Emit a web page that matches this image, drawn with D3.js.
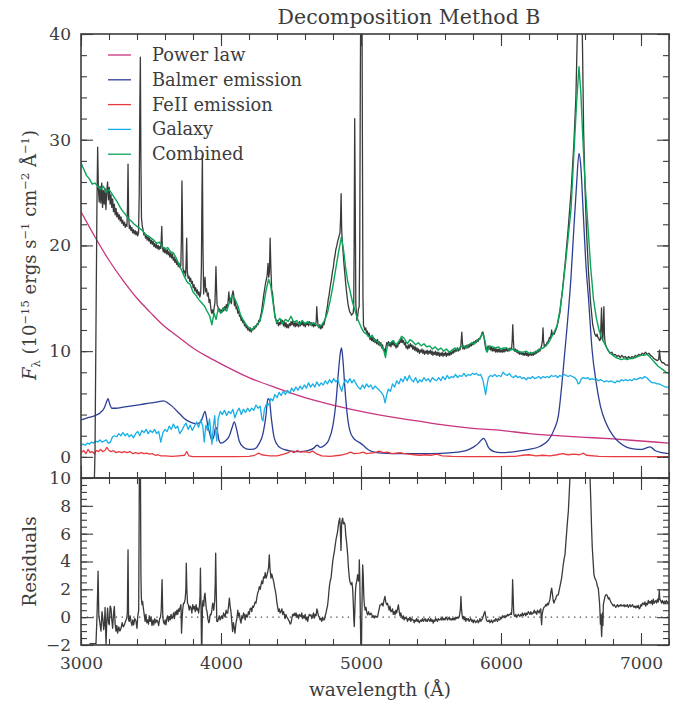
<!DOCTYPE html>
<html><head><meta charset="utf-8">
<script src="https://cdn.jsdelivr.net/npm/d3@7"></script>
<style>body{margin:0;background:#fff}svg{display:block}</style>
</head><body>
<svg id="c" width="687" height="703"></svg>
<script>
// ---------- DATA ----------
const xMajorTicks = [3000, 4000, 5000, 6000, 7000];
const yTopLabels = [0, 10, 20, 30, 40];
const yResLabels = [-2, 0, 2, 4, 6, 8, 10];
const seriesNames = ["Power law", "Balmer emission", "FeII emission", "Galaxy", "Combined"];

const powerLaw = [[3000,23.2],[3100,20.8],[3200,18.6],[3300,16.7],[3400,15.0],[3500,13.6],[3600,12.3],[3700,11.3],[3800,10.3],[3900,9.5],[4000,8.8],[4200,7.5],[4400,6.5],[4600,5.6],[4800,4.9],[5000,4.3],[5200,3.8],[5400,3.4],[5600,3.0],[5800,2.7],[6000,2.5],[6200,2.2],[6400,2.0],[6600,1.85],[6800,1.7],[7000,1.5],[7200,1.3]];

const balmer = [[3000,3.5],[3050,3.7],[3100,3.9],[3140,4.2],[3165,4.6],[3180,5.1],[3193,5.5],[3205,5.0],[3220,4.6],[3250,4.6],[3300,4.7],[3350,4.8],[3400,4.9],[3450,5.0],[3500,5.1],[3550,5.2],[3590,5.3],[3620,5.1],[3650,4.8],[3680,4.4],[3710,4.0],[3740,3.6],[3770,3.35],[3800,3.2],[3830,3.15],[3855,3.3],[3870,3.8],[3885,4.3],[3895,3.8],[3905,3.0],[3920,2.2],[3935,1.6],[3950,2.0],[3962,2.8],[3972,2.6],[3985,1.6],[4000,1.3],[4030,1.5],[4060,2.0],[4080,2.8],[4095,3.3],[4110,2.7],[4130,1.5],[4160,0.9],[4200,0.7],[4240,0.75],[4270,1.2],[4300,2.2],[4320,3.8],[4335,5.5],[4345,5.4],[4360,3.6],[4380,1.8],[4410,1.0],[4450,0.7],[4500,0.55],[4560,0.5],[4620,0.6],[4660,0.8],[4686,1.1],[4710,0.9],[4740,1.1],[4770,1.6],[4800,3.0],[4820,5.0],[4840,8.2],[4852,9.8],[4861,10.3],[4870,9.3],[4885,6.5],[4900,4.2],[4920,2.5],[4945,1.8],[4970,1.5],[4995,1.3],[5015,1.1],[5040,0.8],[5080,0.5],[5150,0.35],[5300,0.3],[5500,0.3],[5650,0.4],[5750,0.6],[5800,0.9],[5840,1.3],[5860,1.6],[5876,1.75],[5890,1.5],[5910,0.9],[5950,0.5],[6000,0.4],[6100,0.5],[6200,0.7],[6280,1.0],[6340,1.6],[6380,2.6],[6410,3.9],[6440,7.6],[6470,12.0],[6500,17.0],[6520,21.5],[6540,25.8],[6557,28.7],[6570,27.5],[6586,23.5],[6605,18.5],[6625,15.0],[6650,10.2],[6680,7.0],[6710,4.8],[6750,3.2],[6800,2.0],[6850,1.3],[6900,0.9],[6950,0.75],[7000,0.7],[7030,0.8],[7065,0.95],[7100,0.6],[7150,0.4],[7200,0.3]];

const feII = [[3000,0.4],[3020,0.6],[3035,0.3],[3050,0.7],[3065,0.4],[3080,0.5],[3095,0.3],[3110,0.6],[3125,0.5],[3140,0.7],[3155,0.5],[3170,0.6],[3185,0.9],[3200,0.6],[3215,0.5],[3230,0.6],[3250,0.4],[3270,0.5],[3290,0.4],[3310,0.5],[3330,0.4],[3350,0.5],[3370,0.3],[3390,0.4],[3410,0.3],[3430,0.4],[3450,0.3],[3470,0.35],[3490,0.25],[3510,0.3],[3530,0.15],[3550,0.2],[3570,0.1],[3600,0.1],[3650,0.05],[3700,0.1],[3740,0.15],[3755,0.5],[3770,0.1],[3800,0.02],[3900,0.02],[4000,0.02],[4100,0.03],[4200,0.05],[4240,0.15],[4270,0.35],[4290,0.2],[4320,0.15],[4350,0.1],[4400,0.1],[4450,0.25],[4480,0.4],[4500,0.55],[4520,0.4],[4545,0.6],[4570,0.45],[4600,0.5],[4630,0.4],[4655,0.55],[4680,0.3],[4720,0.1],[4780,0.05],[4850,0.15],[4900,0.3],[4925,0.45],[4950,0.3],[4990,0.35],[5015,0.45],[5040,0.3],[5070,0.35],[5100,0.4],[5130,0.55],[5160,0.4],[5190,0.45],[5220,0.3],[5250,0.35],[5280,0.4],[5310,0.3],[5340,0.25],[5380,0.2],[5420,0.15],[5460,0.2],[5500,0.15],[5540,0.25],[5580,0.1],[5650,0.05],[5750,0.02],[5900,0.02],[6000,0.03],[6100,0.05],[6150,0.15],[6200,0.2],[6250,0.1],[6300,0.15],[6350,0.1],[6400,0.2],[6440,0.3],[6480,0.2],[6520,0.25],[6560,0.2],[6590,0.35],[6610,0.15],[6700,0.05],[6800,0.02],[7200,0.02]];

const galaxy = [[3000,1.1],[3015,1.2],[3030,1.1],[3045,1.3],[3060,1.2],[3075,1.4],[3090,1.3],[3105,1.5],[3120,1.4],[3135,1.6],[3150,1.4],[3165,1.5],[3180,1.6],[3195,1.3],[3210,1.4],[3225,1.9],[3240,2.0],[3255,1.9],[3270,2.2],[3285,2.0],[3300,2.3],[3315,2.0],[3330,2.2],[3345,1.9],[3360,2.1],[3375,1.8],[3390,2.2],[3405,2.4],[3420,2.0],[3435,2.5],[3450,2.3],[3465,2.6],[3480,2.2],[3495,2.5],[3510,2.3],[3525,2.6],[3540,2.2],[3555,2.4],[3570,1.4],[3585,2.3],[3600,2.6],[3615,2.4],[3630,2.9],[3645,2.6],[3660,3.1],[3675,2.7],[3690,2.9],[3705,2.2],[3720,2.5],[3735,2.9],[3750,3.2],[3765,2.6],[3780,3.0],[3795,2.5],[3810,2.9],[3825,3.3],[3840,2.8],[3855,3.5],[3870,2.9],[3880,1.4],[3892,3.0],[3905,2.5],[3918,3.6],[3928,2.2],[3935,1.2],[3945,2.8],[3955,3.9],[3962,2.5],[3970,1.5],[3980,3.6],[3995,4.3],[4010,4.0],[4025,4.4],[4040,3.9],[4055,4.3],[4070,4.1],[4085,4.5],[4100,3.7],[4115,4.3],[4130,4.6],[4145,4.0],[4160,4.5],[4175,4.2],[4190,4.6],[4205,4.3],[4220,4.6],[4235,4.4],[4250,4.9],[4265,4.6],[4280,4.8],[4292,3.6],[4300,3.4],[4310,4.5],[4325,5.0],[4340,4.9],[4355,5.5],[4370,5.3],[4385,5.9],[4400,5.6],[4415,6.1],[4430,5.8],[4445,6.2],[4460,5.9],[4475,6.3],[4490,6.0],[4505,6.5],[4520,6.2],[4535,6.6],[4550,6.3],[4565,6.7],[4580,6.4],[4595,6.8],[4610,6.5],[4625,7.0],[4640,6.6],[4655,6.9],[4670,6.6],[4685,7.1],[4700,6.7],[4715,7.0],[4730,6.8],[4745,7.2],[4760,6.9],[4775,7.3],[4790,7.0],[4805,7.4],[4820,7.1],[4835,7.3],[4850,6.6],[4862,6.2],[4875,6.9],[4890,7.3],[4905,7.0],[4920,7.4],[4935,7.0],[4950,7.3],[4965,6.9],[4980,6.6],[4995,6.4],[5010,6.8],[5025,6.5],[5040,6.9],[5055,6.6],[5070,6.8],[5085,6.4],[5100,6.7],[5115,6.5],[5130,6.3],[5145,6.1],[5160,5.8],[5172,5.1],[5182,5.8],[5195,6.4],[5210,6.2],[5225,6.9],[5240,6.6],[5255,7.2],[5270,6.9],[5285,7.4],[5300,7.1],[5315,7.6],[5330,7.2],[5345,7.7],[5360,7.3],[5375,7.1],[5390,7.5],[5405,7.0],[5420,7.3],[5435,7.1],[5450,7.5],[5465,7.2],[5480,7.4],[5495,7.1],[5510,7.5],[5525,7.3],[5540,7.2],[5555,7.5],[5570,7.2],[5585,7.6],[5600,7.3],[5615,7.7],[5630,7.4],[5645,7.6],[5660,7.5],[5675,7.8],[5690,7.5],[5705,7.7],[5720,7.6],[5735,7.9],[5750,7.6],[5765,7.8],[5780,7.7],[5795,7.9],[5810,7.8],[5825,7.9],[5840,7.7],[5855,7.8],[5870,7.3],[5882,6.5],[5890,5.9],[5898,6.6],[5910,7.5],[5925,7.7],[5940,7.6],[5955,7.8],[5970,7.6],[5985,7.7],[6000,7.6],[6015,8.0],[6030,7.8],[6045,7.7],[6060,7.9],[6075,7.6],[6090,7.5],[6105,7.7],[6120,7.5],[6135,7.6],[6150,7.4],[6165,7.5],[6180,7.3],[6195,7.5],[6210,7.4],[6225,7.6],[6240,7.4],[6255,7.5],[6270,7.6],[6285,7.4],[6300,7.6],[6315,7.5],[6330,7.6],[6345,7.5],[6360,7.7],[6375,7.6],[6390,7.7],[6405,7.5],[6420,7.7],[6435,7.6],[6450,7.8],[6465,7.7],[6480,7.6],[6495,7.7],[6510,7.6],[6525,7.5],[6540,7.3],[6552,6.9],[6562,7.0],[6575,7.4],[6590,7.5],[6605,7.4],[6620,7.5],[6635,7.3],[6650,7.4],[6665,7.3],[6680,7.4],[6695,7.2],[6710,7.3],[6725,7.2],[6740,7.1],[6755,7.2],[6770,7.1],[6785,7.2],[6800,7.1],[6815,7.0],[6830,7.2],[6845,7.1],[6860,7.3],[6875,7.2],[6890,7.3],[6905,7.2],[6920,7.3],[6935,7.2],[6950,7.4],[6965,7.3],[6980,7.4],[6995,7.5],[7010,7.4],[7025,7.6],[7040,7.5],[7055,7.3],[7070,7.1],[7085,7.0],[7100,7.0],[7115,6.9],[7130,6.9],[7145,6.8],[7160,6.7],[7175,6.6],[7190,6.6],[7200,6.5]];

const combined = [[3000,27.8],[3020,27.2],[3040,26.6],[3060,26.3],[3080,25.8],[3100,25.9],[3120,25.6],[3140,25.3],[3160,25.6],[3180,25.0],[3200,25.3],[3220,24.9],[3240,24.5],[3260,24.1],[3280,23.6],[3300,23.2],[3320,22.9],[3340,22.5],[3360,22.3],[3380,22.0],[3400,21.8],[3420,21.6],[3440,21.4],[3460,21.0],[3480,20.9],[3500,20.7],[3520,20.5],[3540,20.2],[3560,20.3],[3580,19.9],[3600,19.7],[3620,19.8],[3640,19.4],[3660,19.3],[3680,18.8],[3700,18.2],[3720,17.6],[3740,17.0],[3760,16.5],[3780,16.3],[3800,15.6],[3820,15.3],[3840,14.9],[3860,14.6],[3880,14.3],[3900,13.8],[3920,13.3],[3935,12.5],[3950,13.6],[3965,13.0],[3980,14.0],[4000,13.6],[4020,14.1],[4040,13.8],[4060,14.6],[4080,15.3],[4100,14.9],[4120,14.3],[4140,13.4],[4160,12.9],[4180,12.5],[4200,12.2],[4220,12.0],[4240,12.3],[4260,12.5],[4280,12.9],[4300,14.0],[4320,15.6],[4340,16.8],[4355,16.2],[4370,14.8],[4385,13.2],[4400,12.7],[4420,13.1],[4440,12.6],[4460,13.0],[4480,12.8],[4500,13.3],[4520,12.7],[4540,12.9],[4560,12.5],[4580,12.9],[4600,12.6],[4620,12.8],[4640,12.5],[4660,12.7],[4680,12.5],[4700,12.3],[4720,12.5],[4740,12.9],[4760,13.6],[4780,14.8],[4800,16.2],[4820,17.8],[4840,19.4],[4860,20.8],[4875,19.6],[4890,17.9],[4905,16.6],[4920,15.8],[4940,14.6],[4960,13.7],[4980,12.9],[5000,12.3],[5020,11.8],[5040,11.6],[5060,11.3],[5080,11.5],[5100,11.0],[5120,10.9],[5140,10.6],[5160,10.2],[5175,9.4],[5190,10.6],[5210,10.8],[5230,11.0],[5250,10.6],[5270,10.9],[5290,11.4],[5310,11.2],[5330,10.7],[5350,11.1],[5370,10.9],[5390,10.6],[5410,10.8],[5430,10.5],[5450,10.7],[5470,10.4],[5490,10.5],[5510,10.2],[5530,10.4],[5550,10.1],[5570,10.3],[5590,10.0],[5610,10.2],[5630,9.9],[5650,10.1],[5670,10.3],[5690,10.1],[5710,10.4],[5730,10.5],[5750,10.3],[5770,10.6],[5790,10.8],[5810,10.7],[5830,11.0],[5850,11.2],[5870,11.7],[5885,11.0],[5900,9.9],[5920,10.5],[5940,10.4],[5960,10.3],[5980,10.4],[6000,10.2],[6020,10.3],[6040,10.3],[6060,10.1],[6080,10.2],[6100,10.0],[6120,10.0],[6140,9.9],[6160,9.9],[6180,10.0],[6200,9.8],[6220,9.8],[6240,9.9],[6260,10.0],[6280,10.2],[6300,10.3],[6320,10.5],[6340,10.8],[6360,11.3],[6380,11.8],[6400,12.4],[6420,13.8],[6440,15.8],[6460,18.2],[6480,20.8],[6500,23.4],[6520,28.5],[6540,33.5],[6557,36.9],[6570,34.5],[6585,30.0],[6600,26.0],[6620,22.0],[6640,18.0],[6660,15.0],[6680,13.2],[6700,12.0],[6720,11.2],[6740,10.7],[6760,10.2],[6780,9.8],[6800,9.6],[6820,9.4],[6840,9.3],[6860,9.2],[6880,9.3],[6900,9.2],[6920,9.3],[6940,9.3],[6960,9.4],[6980,9.5],[7000,9.6],[7020,9.6],[7040,9.7],[7060,9.5],[7080,9.2],[7100,8.9],[7120,8.6],[7140,8.4],[7160,8.2],[7180,8.0],[7200,7.9]];

const observed = [[3092,-4],[3100,0.3],[3108,14],[3114,24],[3119,29.3],[3124,25.5],[3130,24.1],[3136,25.6],[3142,24.0],[3148,25.9],[3154,23.6],[3160,25.2],[3166,23.9],[3172,25.4],[3178,23.4],[3184,25.1],[3190,26.0],[3196,24.3],[3202,25.5],[3208,23.9],[3214,24.8],[3220,23.6],[3226,24.4],[3232,23.2],[3238,23.9],[3244,22.9],[3250,23.5],[3256,22.7],[3262,23.1],[3268,22.5],[3274,22.9],[3280,22.3],[3286,22.7],[3292,22.1],[3298,22.4],[3304,21.9],[3310,22.2],[3316,21.7],[3322,22.0],[3328,21.8],[3332,23.5],[3336,27.7],[3340,23.0],[3345,21.6],[3351,21.9],[3357,21.4],[3363,21.7],[3369,21.2],[3375,21.5],[3381,21.1],[3387,21.4],[3393,21.0],[3399,21.3],[3405,20.9],[3411,21.2],[3416,25],[3420,33],[3424,37.8],[3428,28],[3432,22.6],[3437,21.9],[3443,21.5],[3449,21.0],[3455,21.2],[3461,20.7],[3467,21.0],[3473,20.5],[3479,20.8],[3485,20.4],[3491,20.7],[3497,20.2],[3503,20.5],[3509,20.1],[3515,20.4],[3521,19.9],[3527,20.2],[3533,19.8],[3539,20.1],[3545,19.7],[3551,20.0],[3557,19.6],[3563,19.9],[3569,19.7],[3573,20.5],[3577,21.8],[3581,19.9],[3587,19.4],[3593,19.8],[3599,19.3],[3605,19.6],[3611,19.2],[3617,19.6],[3623,19.1],[3629,19.4],[3635,18.9],[3641,19.3],[3647,18.8],[3653,19.2],[3659,18.6],[3665,18.9],[3671,18.4],[3677,18.7],[3683,18.2],[3689,18.5],[3695,18.0],[3701,18.3],[3707,17.9],[3713,18.1],[3717,20.5],[3721,26.1],[3725,22],[3729,17.8],[3735,17.4],[3741,17.6],[3747,17.1],[3751,18.5],[3755,20.7],[3759,17.6],[3765,16.9],[3771,17.1],[3777,16.6],[3783,16.9],[3789,16.4],[3795,16.6],[3801,16.0],[3807,16.3],[3813,15.7],[3819,16.0],[3825,15.5],[3831,15.8],[3837,15.3],[3843,15.6],[3849,15.1],[3855,15.5],[3860,18],[3864,25],[3867,28.5],[3871,20],[3876,15.4],[3881,16.4],[3886,17.0],[3891,15.6],[3897,15.9],[3903,15.2],[3909,15.5],[3915,14.6],[3921,14.9],[3927,14.1],[3933,13.6],[3939,13.9],[3945,13.5],[3951,14.1],[3957,14.6],[3961,16.5],[3964,18.0],[3968,16.0],[3972,14.4],[3978,14.2],[3984,13.8],[3990,14.0],[3996,13.6],[4002,13.9],[4008,13.7],[4014,14.1],[4020,13.8],[4026,14.2],[4032,13.9],[4038,14.4],[4044,14.1],[4050,14.6],[4056,15.6],[4062,14.6],[4068,15.0],[4074,14.5],[4080,15.3],[4086,15.7],[4090,15.4],[4096,14.3],[4102,14.9],[4108,14.0],[4114,14.2],[4120,13.6],[4126,13.8],[4132,13.3],[4138,13.4],[4144,12.9],[4150,13.1],[4156,12.7],[4162,12.9],[4168,12.4],[4174,12.6],[4180,12.2],[4186,12.4],[4192,12.0],[4198,12.2],[4204,11.9],[4210,12.2],[4216,11.8],[4222,12.1],[4228,12.0],[4234,12.3],[4240,12.1],[4246,12.4],[4252,12.3],[4258,12.6],[4264,12.5],[4270,12.9],[4276,12.8],[4282,13.3],[4288,13.6],[4294,14.2],[4300,14.8],[4306,15.4],[4312,15.9],[4318,16.4],[4324,16.8],[4330,17.2],[4336,18.3],[4341,17.0],[4346,17.5],[4351,20.7],[4356,18.0],[4362,15.8],[4368,15.5],[4374,14.6],[4380,14.0],[4386,13.3],[4392,13.0],[4398,12.6],[4404,12.9],[4410,12.4],[4416,12.7],[4422,12.5],[4428,13.0],[4434,12.6],[4440,12.9],[4446,12.4],[4452,12.8],[4458,12.3],[4464,12.7],[4470,12.2],[4476,12.5],[4482,12.2],[4488,12.6],[4494,12.4],[4500,12.8],[4506,12.5],[4512,12.9],[4518,12.4],[4524,12.8],[4530,12.3],[4536,12.7],[4542,12.4],[4548,12.6],[4554,12.3],[4560,12.8],[4566,12.4],[4572,12.7],[4578,12.5],[4584,12.8],[4590,12.4],[4596,12.7],[4602,12.3],[4608,12.6],[4614,12.5],[4620,12.7],[4626,12.4],[4632,12.8],[4638,12.5],[4644,12.7],[4650,12.4],[4656,12.6],[4662,12.3],[4668,12.6],[4674,12.4],[4680,12.8],[4684,14.2],[4688,13.2],[4694,12.4],[4700,12.2],[4706,12.5],[4712,12.1],[4718,12.4],[4724,12.2],[4730,12.6],[4736,12.5],[4742,12.9],[4748,13.3],[4754,13.8],[4760,14.2],[4766,14.9],[4772,15.3],[4778,15.9],[4784,16.4],[4790,16.9],[4796,17.5],[4802,17.9],[4808,18.6],[4814,19.0],[4820,19.6],[4826,19.9],[4832,20.3],[4838,20.6],[4844,20.9],[4850,21.2],[4854,22.5],[4858,24.9],[4862,21.5],[4867,20.2],[4872,19.4],[4878,18.3],[4884,17.4],[4890,16.5],[4896,15.7],[4902,15.0],[4908,14.4],[4914,14.0],[4920,13.7],[4926,13.6],[4932,13.4],[4938,13.5],[4944,13.6],[4948,14.2],[4951,20],[4955,32.0],[4959,24],[4963,14.5],[4967,13.6],[4971,12.9],[4976,13.3],[4982,14.0],[4987,14.2],[4991,20],[4995,35],[5000,48],[5006,48],[5010,30],[5014,15],[5018,12.4],[5022,12.3],[5028,12.0],[5034,12.2],[5040,11.7],[5046,11.9],[5052,11.4],[5058,11.7],[5064,11.1],[5070,11.4],[5076,11.0],[5082,11.3],[5088,10.9],[5094,11.2],[5100,10.8],[5106,11.1],[5112,10.7],[5118,11.1],[5124,10.6],[5130,10.9],[5136,10.5],[5142,10.8],[5148,10.3],[5154,10.6],[5160,10.1],[5166,10.2],[5172,9.8],[5178,10.4],[5184,10.8],[5190,10.5],[5196,10.9],[5202,10.5],[5208,10.8],[5214,10.4],[5220,10.9],[5226,10.6],[5232,11.0],[5238,10.5],[5244,10.7],[5250,10.3],[5256,10.6],[5262,10.4],[5268,10.9],[5274,10.7],[5280,11.1],[5286,10.8],[5292,11.2],[5298,10.8],[5304,11.0],[5310,10.6],[5316,10.8],[5322,10.3],[5328,10.5],[5334,10.2],[5340,10.6],[5346,10.3],[5352,10.7],[5358,10.4],[5364,10.6],[5370,10.2],[5376,10.5],[5382,10.1],[5388,10.4],[5394,10.0],[5400,10.3],[5406,9.9],[5412,10.2],[5418,9.8],[5424,10.1],[5430,9.9],[5436,10.2],[5442,9.8],[5448,10.1],[5454,9.7],[5460,10.0],[5466,9.8],[5472,10.1],[5478,9.7],[5484,10.0],[5490,9.8],[5496,10.1],[5502,9.7],[5508,10.0],[5514,9.6],[5520,9.9],[5526,9.7],[5532,10.0],[5538,9.6],[5544,9.9],[5550,9.6],[5556,9.9],[5562,9.5],[5568,9.8],[5574,9.6],[5580,9.9],[5586,9.5],[5592,9.8],[5598,9.6],[5604,9.9],[5610,9.5],[5616,9.8],[5622,9.6],[5628,9.9],[5634,9.6],[5640,9.9],[5646,9.7],[5652,10.0],[5658,9.8],[5664,10.1],[5670,9.9],[5676,10.2],[5682,10.0],[5688,10.3],[5694,10.0],[5700,10.2],[5706,10.1],[5712,10.4],[5716,11.0],[5720,11.8],[5724,10.9],[5728,10.2],[5734,10.5],[5740,10.2],[5746,10.5],[5752,10.3],[5758,10.6],[5764,10.3],[5770,10.6],[5776,10.4],[5782,10.7],[5788,10.5],[5794,10.8],[5800,10.6],[5806,10.9],[5812,10.7],[5818,11.0],[5824,10.8],[5830,11.1],[5836,10.9],[5842,11.2],[5848,11.1],[5854,11.4],[5860,11.5],[5866,11.8],[5872,11.8],[5878,11.4],[5884,10.8],[5890,10.3],[5896,10.0],[5902,10.2],[5908,10.5],[5914,10.2],[5920,10.4],[5926,10.1],[5932,10.4],[5938,10.0],[5944,10.3],[5950,10.0],[5956,10.3],[5962,9.9],[5968,10.2],[5974,9.9],[5980,10.2],[5986,9.9],[5992,10.2],[5998,9.9],[6004,10.1],[6010,9.9],[6016,10.2],[6022,9.9],[6028,10.2],[6034,10.0],[6040,10.3],[6046,10.0],[6052,10.2],[6058,10.0],[6064,10.3],[6070,10.1],[6076,10.3],[6080,11.0],[6084,12.5],[6088,11.2],[6092,10.2],[6098,10.0],[6104,10.2],[6110,9.9],[6116,10.1],[6122,9.8],[6128,10.0],[6134,9.7],[6140,9.9],[6146,9.7],[6152,9.9],[6158,9.6],[6164,9.8],[6170,9.6],[6176,9.9],[6182,9.6],[6188,9.8],[6194,9.5],[6200,9.8],[6206,9.6],[6212,9.9],[6218,9.6],[6224,9.8],[6230,9.6],[6236,9.9],[6242,9.7],[6248,10.0],[6254,9.8],[6260,10.1],[6266,9.9],[6272,10.2],[6278,10.0],[6284,10.3],[6290,10.5],[6296,11.0],[6300,12.2],[6304,11.0],[6310,10.4],[6316,10.6],[6322,10.5],[6328,10.8],[6334,10.9],[6340,11.0],[6346,11.3],[6352,11.2],[6358,11.6],[6362,12.0],[6366,11.5],[6372,11.7],[6380,11.6],[6400,12.3],[6420,13.6],[6440,15.9],[6460,18.6],[6480,21.6],[6500,25.0],[6520,29.5],[6535,34],[6545,40],[6552,47],[6558,52],[6562,44],[6566,52],[6575,45],[6583,38],[6590,31],[6600,25.5],[6612,21.0],[6625,17.5],[6640,14.6],[6655,12.5],[6670,11.6],[6680,11.4],[6686,11.6],[6692,11.3],[6698,11.2],[6704,11.0],[6710,11.1],[6714,12.5],[6718,14.1],[6722,12.0],[6727,11.0],[6731,12.8],[6735,14.2],[6739,11.5],[6744,10.7],[6756,10.3],[6768,10.0],[6780,9.8],[6792,9.9],[6804,9.6],[6816,9.7],[6828,9.5],[6840,9.6],[6852,9.4],[6864,9.6],[6876,9.4],[6888,9.5],[6900,9.3],[6912,9.5],[6924,9.3],[6936,9.5],[6948,9.4],[6960,9.6],[6972,9.5],[6984,9.7],[6996,9.6],[7008,9.8],[7020,9.7],[7032,9.9],[7044,9.7],[7056,9.8],[7068,9.6],[7080,9.5],[7092,9.3],[7104,9.2],[7116,9.1],[7126,9.2],[7132,10.1],[7138,9.2],[7150,8.9],[7162,8.9],[7174,8.7],[7186,8.7],[7200,8.6]];

const residuals = [[3060,-1.9],[3080,-1.9],[3107,-1.9],[3114,0.0],[3118,1.5],[3122,3.3],[3127,0.2],[3133,-0.3],[3143,-1.0],[3150,0.4],[3155,0.0],[3162,-0.9],[3167,-0.5],[3172,0.7],[3179,-2.0],[3184,-0.3],[3190,0.65],[3196,-0.4],[3202,-0.55],[3208,0.8],[3214,0.65],[3220,-0.2],[3226,-0.8],[3232,0.2],[3238,0.77],[3244,-0.5],[3250,-1.0],[3256,-0.6],[3262,-1.15],[3270,-0.7],[3278,-1.0],[3286,-0.8],[3294,-0.4],[3302,-0.7],[3310,-0.55],[3318,-0.3],[3326,-0.1],[3331,0.3],[3336,4.84],[3340,-0.2],[3345,-0.3],[3351,0.1],[3357,-0.3],[3364,-0.6],[3370,-0.2],[3376,-0.55],[3384,-0.1],[3393,-0.3],[3400,-0.8],[3405,0.0],[3412,0.5],[3417,10.5],[3424,12],[3428,3],[3431,1.37],[3436,0.9],[3440,1.13],[3446,0.6],[3452,0.17],[3458,-0.3],[3464,0.2],[3470,-0.4],[3476,-0.2],[3482,-0.5],[3488,0.1],[3494,-0.3],[3500,0.0],[3507,-0.6],[3514,-0.2],[3520,-0.55],[3527,-0.1],[3534,-0.4],[3541,-0.2],[3548,-0.3],[3555,-0.6],[3562,-0.1],[3568,0.0],[3573,0.5],[3579,2.7],[3584,0.2],[3588,-0.3],[3595,-0.5],[3601,-0.2],[3607,-0.55],[3613,-0.1],[3619,0.1],[3625,-0.3],[3631,0.05],[3637,-0.2],[3643,0.2],[3649,-0.1],[3655,0.0],[3661,0.3],[3667,-0.1],[3673,0.4],[3679,0.17],[3685,0.5],[3691,0.2],[3697,0.6],[3702,0.41],[3708,0.7],[3714,0.9],[3718,-1.15],[3722,-0.2],[3726,0.5],[3732,1.0],[3738,1.01],[3744,1.3],[3749,2.0],[3752,3.88],[3756,2.0],[3761,1.0],[3767,0.89],[3773,0.5],[3779,0.8],[3786,0.65],[3792,0.3],[3798,0.9],[3804,0.6],[3810,0.77],[3816,0.4],[3822,0.9],[3828,0.5],[3833,0.65],[3840,0.3],[3846,0.8],[3850,1.5],[3853,3.53],[3857,1.0],[3860,-1.5],[3862,-3.0],[3865,-1.0],[3868,0.9],[3872,1.2],[3877,0.8],[3881,1.5],[3886,1.73],[3890,1.2],[3895,0.6],[3900,0.41],[3906,-0.1],[3912,-0.4],[3917,-0.31],[3923,0.2],[3929,0.17],[3935,0.5],[3940,1.0],[3943,0.89],[3948,0.5],[3955,1.2],[3959,2.5],[3962,4.6],[3966,2.0],[3970,-0.3],[3976,-0.31],[3982,-0.1],[3988,0.1],[3994,-0.2],[4000,-0.07],[4006,0.1],[4012,-0.1],[4018,0.3],[4024,0.17],[4030,0.0],[4036,0.5],[4042,0.3],[4048,0.29],[4054,0.8],[4060,1.37],[4065,0.8],[4071,0.41],[4077,-0.3],[4083,-1.03],[4089,-0.4],[4095,-0.8],[4100,-1.15],[4106,-0.5],[4114,-0.07],[4120,0.5],[4125,0.1],[4131,0.29],[4137,-0.2],[4143,-0.43],[4149,0.1],[4155,-0.1],[4161,0.3],[4167,0.17],[4173,-0.2],[4179,0.2],[4185,0.0],[4190,0.05],[4196,0.4],[4202,0.2],[4208,0.6],[4214,0.65],[4220,0.4],[4226,0.8],[4232,0.7],[4238,0.89],[4244,1.1],[4250,1.0],[4256,1.4],[4262,1.73],[4268,1.9],[4274,2.2],[4280,2.0],[4286,2.33],[4292,2.6],[4298,2.4],[4304,2.9],[4310,2.81],[4316,3.2],[4322,2.8],[4329,3.05],[4335,3.3],[4340,3.6],[4345,4.48],[4350,3.5],[4357,2.81],[4363,3.1],[4370,2.8],[4376,2.57],[4382,2.2],[4388,1.9],[4393,1.61],[4400,1.0],[4405,0.7],[4410,0.41],[4416,0.6],[4422,0.3],[4429,0.41],[4435,0.6],[4441,0.2],[4447,0.4],[4452,0.17],[4458,-0.1],[4464,0.2],[4470,0.0],[4476,-0.07],[4482,-0.2],[4488,-0.3],[4494,-0.5],[4500,-0.43],[4506,-0.1],[4512,0.2],[4518,0.1],[4524,0.29],[4530,0.1],[4536,0.3],[4542,0.0],[4548,0.17],[4554,-0.1],[4560,0.2],[4566,0.1],[4571,0.05],[4577,0.3],[4583,-0.1],[4589,0.1],[4595,-0.07],[4601,0.2],[4607,-0.2],[4613,0.0],[4619,-0.31],[4625,0.0],[4631,0.2],[4637,0.1],[4643,0.17],[4649,-0.1],[4655,0.1],[4661,0.3],[4667,-0.07],[4673,0.2],[4679,0.1],[4685,0.6],[4690,0.41],[4696,0.1],[4702,0.0],[4708,-0.2],[4714,-0.07],[4720,-0.3],[4726,0.0],[4732,-0.2],[4738,-0.19],[4744,0.1],[4750,0.3],[4756,0.6],[4762,0.89],[4768,1.5],[4774,2.2],[4780,2.6],[4786,2.81],[4792,3.4],[4798,4.0],[4804,4.4],[4810,4.72],[4816,5.2],[4822,5.6],[4828,5.9],[4833,6.16],[4838,6.6],[4843,6.9],[4848,7.12],[4852,6.5],[4857,4.8],[4862,6.8],[4866,7.0],[4869,7.12],[4874,6.7],[4880,6.8],[4886,6.64],[4892,5.8],[4898,5.3],[4905,4.48],[4910,3.6],[4916,2.9],[4922,2.5],[4929,2.33],[4935,2.5],[4940,2.09],[4945,1.0],[4949,-0.2],[4952,-0.67],[4956,0.5],[4960,1.8],[4964,2.33],[4970,2.6],[4976,3.05],[4982,2.6],[4986,3.0],[4988,4.12],[4991,3.0],[4994,1.0],[4997,-1.0],[5000,-3.0],[5004,-1.5],[5008,1.5],[5012,3.76],[5016,3.0],[5020,1.5],[5024,0.89],[5030,0.5],[5036,0.7],[5042,0.3],[5048,0.17],[5054,0.4],[5060,0.2],[5064,0.17],[5071,0.29],[5077,0.2],[5083,0.0],[5089,0.1],[5095,-0.07],[5101,0.1],[5107,0.0],[5112,0.05],[5119,0.05],[5124,0.3],[5130,0.6],[5136,0.89],[5143,0.89],[5150,1.0],[5157,0.8],[5164,1.2],[5171,1.49],[5177,1.1],[5183,0.9],[5189,1.0],[5195,0.77],[5201,0.5],[5207,0.8],[5213,0.4],[5219,0.41],[5225,0.6],[5231,0.2],[5237,0.4],[5243,0.17],[5249,0.5],[5255,0.3],[5261,0.6],[5267,0.89],[5273,0.4],[5279,0.1],[5284,0.3],[5290,0.05],[5296,-0.1],[5302,0.1],[5308,-0.2],[5314,0.0],[5320,-0.1],[5326,-0.07],[5332,-0.3],[5338,-0.1],[5344,-0.2],[5350,0.0],[5356,-0.3],[5362,-0.1],[5368,-0.2],[5374,-0.19],[5380,-0.4],[5386,-0.2],[5392,-0.3],[5398,-0.1],[5404,-0.3],[5410,-0.2],[5416,-0.4],[5421,-0.31],[5427,-0.2],[5433,-0.3],[5440,-0.1],[5446,-0.3],[5452,-0.2],[5458,-0.1],[5464,-0.3],[5469,-0.19],[5475,-0.3],[5481,-0.1],[5487,-0.2],[5493,-0.3],[5499,-0.1],[5505,-0.3],[5510,-0.2],[5516,-0.43],[5522,-0.2],[5528,-0.3],[5534,-0.1],[5540,-0.2],[5546,-0.3],[5552,-0.1],[5558,-0.2],[5564,-0.19],[5570,-0.1],[5576,-0.2],[5582,0.0],[5588,-0.2],[5594,-0.1],[5600,-0.2],[5606,0.0],[5612,-0.07],[5618,-0.2],[5624,-0.1],[5630,0.0],[5636,-0.2],[5642,-0.1],[5648,-0.2],[5654,-0.1],[5659,-0.19],[5665,-0.05],[5671,-0.2],[5677,0.0],[5683,-0.1],[5689,0.0],[5695,-0.07],[5700,0.0],[5705,0.2],[5710,0.6],[5714,1.49],[5718,0.6],[5723,0.1],[5727,-0.1],[5731,0.05],[5737,-0.2],[5743,0.0],[5749,-0.3],[5755,-0.1],[5761,-0.2],[5767,-0.1],[5772,-0.3],[5778,-0.19],[5784,-0.1],[5790,-0.3],[5796,-0.2],[5802,-0.4],[5808,-0.2],[5814,-0.3],[5820,-0.4],[5826,-0.31],[5832,-0.2],[5838,-0.4],[5844,-0.3],[5850,-0.1],[5856,-0.3],[5862,-0.19],[5868,-0.1],[5874,0.1],[5880,0.3],[5885,0.41],[5890,0.1],[5896,-0.2],[5902,-0.3],[5909,-0.31],[5915,-0.2],[5921,-0.4],[5927,-0.3],[5933,-0.2],[5939,-0.4],[5945,-0.31],[5951,-0.2],[5957,-0.3],[5963,-0.1],[5969,-0.2],[5975,-0.3],[5981,-0.1],[5987,-0.2],[5993,-0.19],[5999,0.0],[6005,-0.1],[6011,0.1],[6017,0.0],[6023,0.1],[6029,-0.05],[6035,0.1],[6040,0.05],[6046,0.2],[6052,0.1],[6058,0.2],[6064,0.17],[6070,0.3],[6075,0.2],[6079,0.8],[6083,2.69],[6087,1.5],[6091,0.3],[6095,0.1],[6100,0.05],[6106,0.2],[6112,0.0],[6118,0.1],[6124,0.2],[6130,0.1],[6135,0.05],[6141,0.2],[6147,0.1],[6153,0.3],[6159,0.1],[6165,0.2],[6171,0.3],[6177,0.1],[6183,0.29],[6189,0.2],[6195,0.4],[6201,0.3],[6207,0.2],[6213,0.4],[6219,0.2],[6225,0.3],[6231,0.29],[6237,0.5],[6243,0.3],[6249,0.4],[6255,0.2],[6261,0.5],[6266,0.41],[6272,0.3],[6278,0.5],[6284,0.6],[6288,-0.2],[6290,-0.55],[6294,0.2],[6300,0.5],[6306,0.7],[6314,0.77],[6320,0.9],[6326,0.8],[6332,1.0],[6338,0.89],[6344,1.1],[6350,1.3],[6356,1.8],[6362,2.09],[6368,1.6],[6373,1.2],[6378,1.01],[6384,1.2],[6390,1.3],[6396,1.5],[6402,1.6],[6409,1.61],[6415,1.9],[6421,2.2],[6427,2.5],[6433,2.81],[6439,3.3],[6445,3.8],[6451,4.2],[6457,4.48],[6463,5.3],[6469,6.1],[6475,6.9],[6481,7.6],[6487,8.8],[6493,10.2],[6500,11.5],[6530,14],[6557,17],[6590,14],[6625,11.0],[6636,10.0],[6641,8.5],[6647,6.4],[6652,5.0],[6658,4.0],[6664,3.05],[6670,2.8],[6676,2.7],[6683,2.5],[6689,2.2],[6695,2.09],[6700,1.5],[6704,1.0],[6707,0.41],[6710,-0.5],[6714,0.2],[6717,-1.0],[6719,-1.39],[6722,-0.5],[6725,0.3],[6728,-0.6],[6731,0.89],[6737,1.2],[6743,1.5],[6749,1.6],[6755,1.61],[6761,1.5],[6767,1.3],[6772,1.4],[6778,1.25],[6784,1.1],[6790,1.0],[6796,0.9],[6802,0.8],[6808,0.9],[6814,0.8],[6820,0.7],[6826,0.8],[6832,0.9],[6838,0.75],[6844,0.85],[6850,0.8],[6856,0.9],[6862,0.8],[6868,0.85],[6873,0.8],[6879,0.9],[6885,0.75],[6891,0.85],[6897,0.8],[6903,0.9],[6909,0.7],[6915,0.8],[6921,0.9],[6927,0.75],[6933,0.8],[6939,0.9],[6945,0.77],[6951,0.7],[6957,0.8],[6963,0.65],[6969,0.8],[6975,0.7],[6981,0.85],[6987,0.6],[6993,0.65],[6999,0.9],[7005,0.8],[7010,1.0],[7016,1.01],[7022,0.9],[7028,1.1],[7034,0.8],[7040,1.0],[7046,0.9],[7052,1.2],[7058,1.0],[7064,1.13],[7070,1.0],[7076,1.2],[7082,0.9],[7088,1.3],[7094,1.0],[7100,1.1],[7106,1.2],[7112,1.01],[7118,1.3],[7124,1.1],[7128,1.5],[7131,1.97],[7134,1.3],[7140,1.2],[7147,1.01],[7153,1.2],[7160,1.0],[7167,1.15],[7174,1.0],[7181,1.2],[7188,1.05],[7195,1.1],[7200,1.0]];

// ---------- DRAWING ----------
const FONT = "DejaVu Serif";
const INK = "#3c3c3c";
const colors = {power:"#c8347e", balmer:"#2c3f95", fe:"#e83a3f", gal:"#16aee6", comb:"#0aa458", obs:"#3a3a3a"};

const L = 81, R = 669, T = 34, MID = 478, B = 645;
const svg = d3.select("#c");
const x = d3.scaleLinear().domain([3000, 7200]).range([L, R]);
const yT = d3.scaleLinear().domain([-2, 40]).range([MID, T]);
const yR = d3.scaleLinear().domain([-2, 10]).range([B, MID]);

const defs = svg.append("defs");
defs.append("clipPath").attr("id","clipT").append("rect").attr("x",L).attr("y",T).attr("width",R-L).attr("height",MID-T);
defs.append("clipPath").attr("id","clipR").append("rect").attr("x",L).attr("y",MID).attr("width",R-L).attr("height",B-MID);

const lineT = d3.line().x(d => x(d[0])).y(d => yT(d[1]));
const smoothT = d3.line().x(d => x(d[0])).y(d => yT(d[1])).curve(d3.curveMonotoneX);
const lineR = d3.line().x(d => x(d[0])).y(d => yR(d[1]));

const gT = svg.append("g").attr("clip-path","url(#clipT)");
function drawT(data, color, w, gen){ gT.append("path").datum(data).attr("d", gen || lineT).attr("fill","none").attr("stroke",color).attr("stroke-width",w).attr("stroke-linejoin","round"); }
drawT(powerLaw, colors.power, 1.3, smoothT);
drawT(balmer, colors.balmer, 1.3, smoothT);
drawT(feII, colors.fe, 1.3);
drawT(galaxy, colors.gal, 1.3);
drawT(observed, colors.obs, 1.3);
drawT(combined, colors.comb, 1.4);

const gR = svg.append("g").attr("clip-path","url(#clipR)");
gR.append("line").attr("x1",L).attr("x2",R).attr("y1",yR(0)).attr("y2",yR(0))
  .attr("stroke","#444").attr("stroke-width",1.1).attr("stroke-dasharray","1.3 4.5");
gR.append("path").datum(residuals).attr("d", lineR).attr("fill","none").attr("stroke",colors.obs).attr("stroke-width",1.3).attr("stroke-linejoin","round");

// axes helper
function styleAxis(g){
  g.select(".domain").remove();
  g.selectAll(".tick line").attr("stroke", INK).attr("stroke-width", 1.1);
  g.selectAll("text").attr("fill", INK).attr("font-family", FONT).attr("font-size", 17);
}
const xMinor = d3.range(3000, 7201, 200);
function xAxes(y, gen){
  svg.append("g").attr("transform",`translate(0,${y})`).call(gen(x).tickValues(xMinor).tickSize(-6).tickFormat("")).call(styleAxis);
  svg.append("g").attr("transform",`translate(0,${y})`).call(gen(x).tickValues(xMajorTicks).tickSize(-12).tickFormat("")).call(styleAxis);
}
xAxes(T, d3.axisTop);
xAxes(MID, d3.axisBottom);
xAxes(MID, d3.axisTop);
svg.append("g").attr("transform",`translate(0,${B})`).call(d3.axisBottom(x).tickValues(xMinor).tickSize(-6).tickFormat("")).call(styleAxis);
svg.append("g").attr("transform",`translate(0,${B})`).call(d3.axisBottom(x).tickValues(xMajorTicks).tickSize(-12).tickPadding(12).tickFormat(d3.format("d"))).call(styleAxis);

// y axes top panel
const yTMinor = d3.range(-2, 41, 2);
[[L, d3.axisLeft],[R, d3.axisRight]].forEach(([px, gen], i) => {
  svg.append("g").attr("transform",`translate(${px},0)`).call(gen(yT).tickValues(yTMinor).tickSize(-6).tickFormat("")).call(styleAxis);
  svg.append("g").attr("transform",`translate(${px},0)`).call(gen(yT).tickValues(yTopLabels).tickSize(-12).tickPadding(10).tickFormat(i===0 ? d3.format("d") : "")).call(styleAxis);
});
const yRMinor = d3.range(-2, 10.01, 0.5);
[[L, d3.axisLeft],[R, d3.axisRight]].forEach(([px, gen], i) => {
  svg.append("g").attr("transform",`translate(${px},0)`).call(gen(yR).tickValues(yRMinor).tickSize(-6).tickFormat("")).call(styleAxis);
  svg.append("g").attr("transform",`translate(${px},0)`).call(gen(yR).tickValues(yResLabels).tickSize(-12).tickPadding(10).tickFormat(i===0 ? d3.format("d") : "")).call(styleAxis);
});

// frames
svg.append("rect").attr("x",L).attr("y",T).attr("width",R-L).attr("height",MID-T).attr("fill","none").attr("stroke",INK).attr("stroke-width",1.6);
svg.append("rect").attr("x",L).attr("y",MID).attr("width",R-L).attr("height",B-MID).attr("fill","none").attr("stroke",INK).attr("stroke-width",1.6);

// title and axis titles
svg.append("text").attr("x",409).attr("y",24).attr("text-anchor","middle").attr("font-family",FONT).attr("font-size",20.5).attr("fill",INK).text("Decomposition Method B");
svg.append("text").attr("x",380).attr("y",696).attr("text-anchor","middle").attr("font-family",FONT).attr("font-size",18.5).attr("fill",INK).text("wavelength (Å)");
svg.append("text").attr("transform",`translate(36,${(MID+B)/2}) rotate(-90)`).attr("text-anchor","middle").attr("font-family",FONT).attr("font-size",18.5).attr("fill",INK).text("Residuals");

const yl = svg.append("text").attr("transform",`translate(36,255) rotate(-90)`).attr("text-anchor","middle").attr("font-family",FONT).attr("font-size",18).attr("fill",INK);
yl.append("tspan").attr("font-style","italic").text("F");
yl.append("tspan").attr("font-size",11.5).attr("dy",4).text("λ");
yl.append("tspan").attr("dy",-4).text(" (10");
yl.append("tspan").attr("font-size",11.5).attr("dy",-7).text("−15");
yl.append("tspan").attr("dy",7).text(" ergs s");
yl.append("tspan").attr("font-size",11.5).attr("dy",-7).text("−1");
yl.append("tspan").attr("dy",7).text(" cm");
yl.append("tspan").attr("font-size",11.5).attr("dy",-7).text("−2");
yl.append("tspan").attr("dy",7).text(" Å");
yl.append("tspan").attr("font-size",11.5).attr("dy",-7).text("−1");
yl.append("tspan").attr("dy",7).text(")");

// legend
const legColors = [colors.power, colors.balmer, colors.fe, colors.gal, colors.comb];
const leg = svg.append("g");
seriesNames.forEach((name, i) => {
  const yy = 55 + i * 24.8;
  leg.append("line").attr("x1",108).attr("x2",131).attr("y1",yy).attr("y2",yy).attr("stroke",legColors[i]).attr("stroke-width",1.3);
  leg.append("text").attr("x",152).attr("y",yy+6).attr("font-family",FONT).attr("font-size",17.8).attr("fill",INK).text(name);
});
</script>
</body></html>
